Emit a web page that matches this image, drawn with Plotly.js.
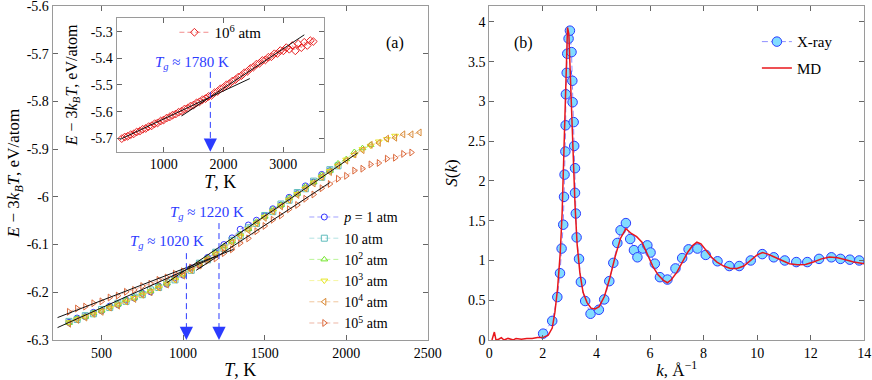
<!DOCTYPE html>
<html>
<head>
<meta charset="utf-8">
<script src="https://cdn.plot.ly/plotly-3.0.1.min.js"></script>
<style>html,body{margin:0;padding:0;background:#fff}</style>
</head>
<body>
<div id="chart" style="width:872px;height:380px"></div>
<script>
// temperature grid (K), shared by all E(T) runs
const tempGrid = [300, 350, 400, 450, 500, 550, 600, 650, 700, 750, 800, 850, 900, 950, 1000, 1050,
  1100, 1150, 1200, 1250, 1300, 1350, 1400, 1450, 1500, 1550, 1600, 1650, 1700, 1750, 1800, 1850,
  1900, 1950, 2000, 2050, 2100, 2150, 2200, 2250, 2300, 2350, 2400, 2450, 2500, 2550, 2600, 2650,
  2700, 2750, 2800, 2850, 2900, 2950, 3000, 3050, 3100, 3150, 3200, 3250, 3300, 3350, 3400, 3450, 3500];

// E - 3kT, eV/atom
const eP1 = [-6.263, -6.254, -6.251, -6.242, -6.239, -6.229, -6.226, -6.216, -6.212, -6.202, -6.199, -6.187,
  -6.183, -6.169, -6.164, -6.149, -6.143, -6.127, -6.118, -6.100, -6.086, -6.068, -6.059, -6.049, -6.040,
  -6.025, -6.017, -6.001, -5.993, -5.977, -5.969, -5.953, -5.945];
const eP10 = [-6.261, -6.257, -6.249, -6.245, -6.236, -6.232, -6.223, -6.219, -6.210, -6.205, -6.195, -6.190,
  -6.179, -6.174, -6.161, -6.154, -6.139, -6.132, -6.116, -6.108, -6.091, -6.082, -6.065, -6.056, -6.039,
  -6.031, -6.015, -6.007, -5.991, -5.983, -5.967, -5.959, -5.943, -5.935];
const eP1e2 = [-6.264, -6.255, -6.251, -6.243, -6.238, -6.230, -6.225, -6.216, -6.211, -6.202, -6.197, -6.187,
  -6.181, -6.170, -6.162, -6.150, -6.141, -6.128, -6.118, -6.104, -6.093, -6.078, -6.067, -6.052, -6.041,
  -6.026, -6.017, -6.002, -5.993, -5.978, -5.969, -5.954, -5.945, -5.930, -5.921, -5.906, -5.898, -5.891];
const eP1e3 = [-6.263, -6.257, -6.251, -6.246, -6.239, -6.233, -6.226, -6.220, -6.212, -6.206, -6.198, -6.191,
  -6.182, -6.174, -6.163, -6.154, -6.142, -6.132, -6.119, -6.108, -6.094, -6.082, -6.068, -6.056, -6.042,
  -6.031, -6.018, -6.007, -5.994, -5.983, -5.970, -5.959, -5.946, -5.935, -5.922, -5.912, -5.900, -5.893,
  -5.884, -5.879, -5.872];
const eP1e4 = [-6.266, -6.258, -6.253, -6.245, -6.241, -6.232, -6.228, -6.219, -6.214, -6.205, -6.200, -6.190,
  -6.184, -6.173, -6.165, -6.153, -6.144, -6.131, -6.121, -6.107, -6.096, -6.081, -6.070, -6.055, -6.044,
  -6.030, -6.020, -6.006, -5.996, -5.982, -5.972, -5.958, -5.948, -5.934, -5.924, -5.911, -5.902, -5.891,
  -5.887, -5.878, -5.876, -5.869, -5.869, -5.865];
const eP1e5 = [-6.241, -6.234, -6.230, -6.223, -6.219, -6.211, -6.207, -6.199, -6.195, -6.187, -6.182, -6.174,
  -6.169, -6.161, -6.156, -6.148, -6.143, -6.134, -6.129, -6.118, -6.110, -6.097, -6.087, -6.072, -6.061,
  -6.048, -6.039, -6.026, -6.017, -6.004, -5.995, -5.982, -5.973, -5.962, -5.956, -5.945, -5.941, -5.932,
  -5.929, -5.920, -5.918, -5.910, -5.907];
const eP1e6 = [-5.701, -5.695, -5.692, -5.686, -5.683, -5.676, -5.673, -5.666, -5.663, -5.656, -5.653, -5.645,
  -5.642, -5.635, -5.631, -5.624, -5.620, -5.613, -5.609, -5.602, -5.598, -5.590, -5.587, -5.579, -5.575,
  -5.567, -5.563, -5.555, -5.551, -5.543, -5.539, -5.529, -5.524, -5.514, -5.509, -5.499, -5.495, -5.485,
  -5.480, -5.470, -5.465, -5.454, -5.449, -5.438, -5.433, -5.422, -5.419, -5.408, -5.406, -5.396, -5.394,
  -5.383, -5.382, -5.371, -5.372, -5.360, -5.366, -5.352, -5.372, -5.346, -5.360, -5.340, -5.352, -5.334, -5.337];

// linear fits (end points)
const fitLowGlassT = [230, 1200], fitLowGlassE = [-6.274, -6.125];
const fitLowLiqT = [900, 2070], fitLowLiqE = [-6.180, -5.908];
const fitHighGlassT = [230, 1310], fitHighGlassE = [-6.253, -6.110];
const fitHighLiqT = [1080, 1900], fitHighLiqE = [-6.154, -5.970];
const fitInGlassT = [270, 2440], fitInGlassE = [-5.704, -5.476];
const fitInLiqT = [1300, 3350], fitInLiqE = [-5.616, -5.312];

const tgLow = 1020, tgHigh = 1220, tgInset = 1780;

// structure factor
const kXray = [2.01, 2.35, 2.54, 2.64, 2.70, 2.76, 2.79, 2.81, 2.84, 2.85, 2.86, 2.89, 2.91, 2.96, 3.01, 3.07,
  3.10, 3.11, 3.15, 3.17, 3.20, 3.20, 3.23, 3.26, 3.35, 3.42, 3.58, 3.78, 4.09, 4.29, 4.48, 4.63, 4.78, 4.90,
  5.10, 5.26, 5.40, 5.53, 5.73, 5.90, 6.02, 6.18, 6.37, 6.65, 6.95, 7.20, 7.44, 7.77, 8.08, 8.52, 8.96, 9.33,
  9.76, 10.19, 10.62, 11.03, 11.46, 11.87, 12.31, 12.77, 13.11, 13.46, 13.81];
const sXray = [0.08, 0.24, 0.54, 0.84, 1.15, 1.45, 1.80, 2.08, 2.37, 2.70, 3.09, 3.36, 3.60, 3.79, 3.89, 3.62,
  3.26, 2.99, 2.74, 2.44, 2.16, 1.85, 1.59, 1.29, 1.02, 0.73, 0.49, 0.33, 0.38, 0.51, 0.74, 0.97, 1.22, 1.38,
  1.47, 1.27, 1.13, 1.04, 1.15, 1.19, 1.10, 0.96, 0.79, 0.76, 0.90, 1.03, 1.14, 1.15, 1.07, 0.99, 0.93, 0.93,
  1.00, 1.08, 1.04, 1.00, 0.98, 0.98, 1.02, 1.04, 1.02, 1.01, 1.00];
const kMD = [0.10, 0.19, 0.25, 0.35, 0.45, 0.55, 0.70, 0.90, 1.00, 1.20, 1.40, 1.60, 1.80, 2.00, 2.20, 2.35,
  2.45, 2.55, 2.65, 2.72, 2.78, 2.83, 2.88, 2.92, 2.97, 3.02, 3.08, 3.14, 3.20, 3.28, 3.38, 3.50, 3.65, 3.80,
  3.95, 4.10, 4.30, 4.50, 4.70, 4.90, 5.10, 5.30, 5.50, 5.70, 5.90, 6.10, 6.30, 6.50, 6.65, 6.80, 7.00, 7.20,
  7.40, 7.60, 7.75, 7.90, 8.10, 8.30, 8.50, 8.75, 9.00, 9.25, 9.50, 9.75, 10.00, 10.20, 10.40, 10.60, 10.90,
  11.20, 11.50, 11.80, 12.10, 12.40, 12.70, 13.00, 13.30, 13.60, 14.00];
const sMD = [0.00, 0.10, 0.00, 0.01, 0.03, 0.00, 0.02, 0.00, 0.02, 0.01, 0.02, 0.02, 0.03, 0.03, 0.06, 0.15,
  0.35, 0.65, 1.10, 1.60, 2.30, 3.00, 3.60, 3.93, 3.85, 3.40, 2.80, 2.20, 1.70, 1.20, 0.85, 0.60, 0.47, 0.40,
  0.39, 0.42, 0.55, 0.78, 1.05, 1.28, 1.40, 1.34, 1.30, 1.23, 1.08, 0.93, 0.82, 0.75, 0.72, 0.76, 0.85, 0.98,
  1.10, 1.19, 1.23, 1.21, 1.12, 1.04, 0.98, 0.93, 0.90, 0.90, 0.93, 1.00, 1.07, 1.10, 1.08, 1.05, 1.00,
  0.96, 0.945, 0.95, 0.98, 1.02, 1.045, 1.035, 1.01, 0.98, 0.96];

const yTickVals = [-6.3, -6.2, -6.1, -6, -5.9, -5.8, -5.7, -5.6];
const yTickText = ['-6.3', '-6.2', '-6.1', '-6', '-5.9', '-5.8', '-5.7', '-5.6'];
const insetTickVals = [-5.7, -5.6, -5.5, -5.4, -5.3];
const insetTickText = ['-5.7', '-5.6', '-5.5', '-5.4', '-5.3'];

const serif = 'Liberation Serif, Times New Roman, serif';
const blue = '#2b3bff';

const series = [
  {e: eP1, name: '<i>p</i> = 1 atm', sym: 'circle-open', mc: '#3434ff', lc: '#8a8aff'},
  {e: eP10, name: '10 atm', sym: 'square-open', mc: '#5fbcbc', lc: '#9fdcdc'},
  {e: eP1e2, name: '10<sup>2</sup> atm', sym: 'triangle-up-open', mc: '#74e62c', lc: '#a8f27c'},
  {e: eP1e3, name: '10<sup>3</sup> atm', sym: 'triangle-down-open', mc: '#e6e624', lc: '#f4f48a'},
  {e: eP1e4, name: '10<sup>4</sup> atm', sym: 'triangle-left-open', mc: '#d98a36', lc: '#ebb684'},
  {e: eP1e5, name: '10<sup>5</sup> atm', sym: 'triangle-right-open', mc: '#dc6a3c', lc: '#eaa58e'},
];

const traces = series.map((s) => ({
  x: tempGrid.slice(0, s.e.length),
  y: s.e,
  type: 'scatter',
  mode: 'lines+markers',
  name: s.name,
  line: {color: s.lc, width: 0.8, dash: '5px,3px'},
  marker: {symbol: s.sym, size: 6, color: s.mc, line: {width: 1, color: s.mc}},
  xaxis: 'x', yaxis: 'y',
}));

const fitLine = (x, y, xa, ya) => ({
  x: x, y: y, type: 'scatter', mode: 'lines', showlegend: false, hoverinfo: 'skip',
  line: {color: '#111', width: 1}, xaxis: xa, yaxis: ya,
});
traces.push(fitLine(fitLowGlassT, fitLowGlassE, 'x', 'y'));
traces.push(fitLine(fitLowLiqT, fitLowLiqE, 'x', 'y'));
traces.push(fitLine(fitHighGlassT, fitHighGlassE, 'x', 'y'));
traces.push(fitLine(fitHighLiqT, fitHighLiqE, 'x', 'y'));

// inset
traces.push({
  x: tempGrid.slice(0, eP1e6.length), y: eP1e6, type: 'scatter', mode: 'lines+markers',
  name: '10<sup>6</sup> atm', legend: 'legend2',
  line: {color: '#f07070', width: 0.8, dash: '5px,3px'},
  marker: {symbol: 'diamond-open', size: 6, color: '#e82020', line: {width: 1, color: '#e82020'}},
  xaxis: 'x2', yaxis: 'y2',
});
traces.push(fitLine(fitInGlassT, fitInGlassE, 'x2', 'y2'));
traces.push(fitLine(fitInLiqT, fitInLiqE, 'x2', 'y2'));

// panel b
traces.push({
  x: kXray, y: sXray, type: 'scatter', mode: 'lines+markers', name: 'X-ray',
  legend: 'legend3', legendgroup: 'xr',
  line: {color: '#8f8fff', width: 1, dash: '6px,3px'},
  marker: {symbol: 'circle', size: 9.5, color: '#82dcff', line: {width: 1, color: '#2b3bff'}},
  xaxis: 'x3', yaxis: 'y3',
});
traces.push({
  x: kMD, y: sMD, type: 'scatter', mode: 'lines', name: 'MD',
  legend: 'legend3', legendgroup: 'md',
  line: {color: '#e8161b', width: 1.5},
  xaxis: 'x3', yaxis: 'y3',
});

const axisStyle = {
  showline: true, mirror: 'ticks', linecolor: '#9a9a9a', linewidth: 1,
  ticks: 'inside', ticklen: 5, tickcolor: '#666', showgrid: false, zeroline: false,
  ticklabeloverflow: 'allow',
  tickfont: {family: serif, size: 14, color: '#000'},
};
const ttl = (text, size, standoff) => ({text: text, font: {family: serif, size: size, color: '#000'}, standoff: standoff});
const eLabel = '<i>E</i> − 3<i>k</i><sub><i>B</i></sub><i>T</i>, eV/atom';

const tgText = (text, x, y, xref, yref) => ({
  text: text, x: x, y: y, xref: xref, yref: yref, showarrow: false,
  font: {family: serif, size: 15, color: blue},
});
const head = (x, y, xref, yref) => ({
  x: x, y: y, xref: xref, yref: yref, text: '', showarrow: true, ax: 0, ay: -12,
  arrowhead: 2, arrowsize: 2.2, arrowwidth: 1.2, arrowcolor: blue, standoff: 0,
});
const dash = (x, y0, y1, xref, yref) => ({
  type: 'line', x0: x, x1: x, y0: y0, y1: y1, xref: xref, yref: yref,
  line: {color: blue, width: 1, dash: '6px,4px'},
});

const layout = {
  width: 872, height: 380,
  margin: {l: 0, r: 0, t: 6, b: 40},
  paper_bgcolor: '#fff', plot_bgcolor: '#fff',
  font: {family: serif, color: '#000'},
  xaxis: Object.assign({}, axisStyle, {domain: [0.0604, 0.4905], range: [200, 2500], dtick: 500,
    anchor: 'y', title: ttl('<i>T</i>, K', 18, 4)}),
  yaxis: Object.assign({}, axisStyle, {domain: [0, 1], range: [-6.3, -5.6], tickvals: yTickVals,
    ticktext: yTickText, anchor: 'x', title: ttl(eLabel, 17, 2)}),
  xaxis2: Object.assign({}, axisStyle, {domain: [0.1338, 0.3716], range: [215, 3680], dtick: 1000,
    anchor: 'y2', title: ttl('<i>T</i>, K', 18, 2)}),
  yaxis2: Object.assign({}, axisStyle, {domain: [0.5638, 0.9632], range: [-5.75, -5.25], tickvals: insetTickVals,
    ticktext: insetTickText, anchor: 'x2', title: ttl(eLabel, 16, 9)}),
  xaxis3: Object.assign({}, axisStyle, {domain: [0.5611, 0.9912], range: [0, 14], dtick: 2,
    anchor: 'y3', title: ttl('<i>k</i>, Å<sup>−1</sup>', 17, 4)}),
  yaxis3: Object.assign({}, axisStyle, {domain: [0, 1], range: [0, 4.2], dtick: 0.5,
    anchor: 'x3', title: ttl('<i>S</i>(<i>k</i>)', 17, 6)}),
  legend: {x: 0.349, y: 0.415, xanchor: 'left', yanchor: 'top', bgcolor: 'rgba(0,0,0,0)',
    font: {family: serif, size: 14}, tracegroupgap: 0},
  legend2: {x: 0.2, y: 0.97, xanchor: 'left', yanchor: 'top', bgcolor: 'rgba(0,0,0,0)',
    font: {family: serif, size: 15}},
  legend3: {x: 0.868, y: 0.942, xanchor: 'left', yanchor: 'top', bgcolor: 'rgba(0,0,0,0)',
    font: {family: serif, size: 15}, tracegroupgap: 4},
  annotations: [
    {text: '(a)', x: 0.453, y: 0.922, xref: 'paper', yref: 'paper', showarrow: false, font: {family: serif, size: 16}},
    {text: '(b)', x: 0.6, y: 0.922, xref: 'paper', yref: 'paper', showarrow: false, font: {family: serif, size: 16}},
    tgText('<i>T</i><sub><i>g</i></sub> ≈ 1020 K', 900, -6.095, 'x', 'y'),
    tgText('<i>T</i><sub><i>g</i></sub> ≈ 1220 K', 1147, -6.034, 'x', 'y'),
    tgText('<i>T</i><sub><i>g</i></sub> ≈ 1780 K', 1482, -5.417, 'x2', 'y2'),
    head(tgLow, -6.3, 'x', 'y'),
    head(tgHigh, -6.3, 'x', 'y'),
    head(tgInset, -5.75, 'x2', 'y2'),
  ],
  shapes: [
    dash(tgLow, -6.118, -6.29, 'x', 'y'),
    dash(tgHigh, -6.055, -6.29, 'x', 'y'),
    dash(tgInset, -5.451, -5.74, 'x2', 'y2'),
  ],
};

Plotly.newPlot('chart', traces, layout, {displayModeBar: false, staticPlot: true});
</script>
</body>
</html>
